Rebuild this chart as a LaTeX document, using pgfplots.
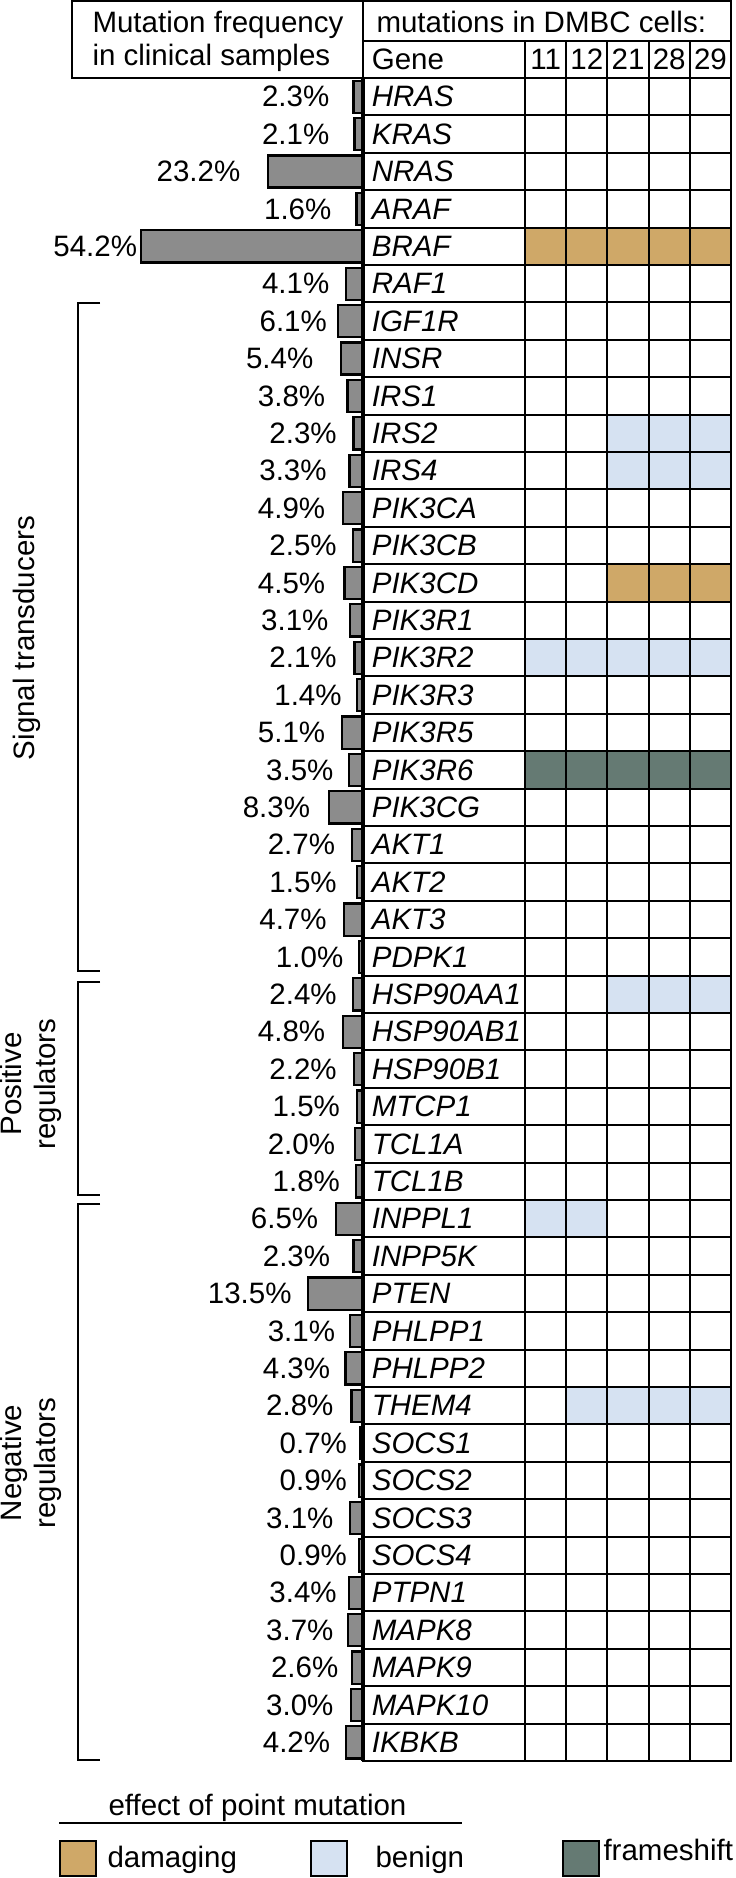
\documentclass[border=0pt]{standalone}
\usepackage{pgfplots}
\pgfplotsset{compat=1.18}
\usepackage{pgfplotstable}
\usepackage{fontspec}
\setmainfont{Liberation Sans}

\definecolor{barg}{RGB}{140,140,140}
\definecolor{dmg}{RGB}{207,168,104}
\definecolor{ben}{RGB}{214,226,242}
\definecolor{frm}{RGB}{101,122,115}

\newcommand{\fs}{\fontsize{11.8}{13.6}\selectfont}

% mutation frequency in clinical samples (%); lx = where the label ends
\pgfplotstableread{
row gene v lx
1 HRAS 2.3 8.1
2 KRAS 2.1 8.1
3 NRAS 23.2 29.8
4 ARAF 1.6 7.6
5 BRAF 54.2 55.0
6 RAF1 4.1 8.1
7 IGF1R 6.1 8.7
8 INSR 5.4 12.0
9 IRS1 3.8 9.1
10 IRS2 2.3 6.3
11 IRS4 3.3 8.75
12 PIK3CA 4.9 9.1
13 PIK3CB 2.5 6.3
14 PIK3CD 4.5 9.1
15 PIK3R1 3.1 8.3
16 PIK3R2 2.1 6.3
17 PIK3R3 1.4 5.1
18 PIK3R5 5.1 9.1
19 PIK3R6 3.5 7.1
20 PIK3CG 8.3 12.8
21 AKT1 2.7 6.7
22 AKT2 1.5 6.3
23 AKT3 4.7 8.75
24 PDPK1 1.0 4.7
25 HSP90AA1 2.4 6.3
26 HSP90AB1 4.8 9.1
27 HSP90B1 2.2 6.3
28 MTCP1 1.5 5.5
29 TCL1A 2.0 6.7
30 TCL1B 1.8 5.5
31 INPPL1 6.5 10.8
32 INPP5K 2.3 7.9
33 PTEN 13.5 17.3
34 PHLPP1 3.1 6.7
35 PHLPP2 4.3 7.9
36 THEM4 2.8 7.1
37 SOCS1 0.7 3.8
38 SOCS2 0.9 3.8
39 SOCS3 3.1 7.1
40 SOCS4 0.9 3.8
41 PTPN1 3.4 6.3
42 MAPK8 3.7 7.1
43 MAPK9 2.6 5.9
44 MAPK10 3.0 7.1
45 IKBKB 4.2 7.9
}\freq

% DMBC cells (columns 11,12,21,28,29): off = empty cells before the coloured run
\pgfplotstableread{
row off dmg ben frm
5 0 5 0 0
10 2 0 3 0
11 2 0 3 0
14 2 3 0 0
16 0 0 5 0
19 0 0 0 5
25 2 0 3 0
31 0 0 2 0
36 1 0 4 0
}\cells

\begin{document}
\begin{tikzpicture}[x=0.4pt, y=-0.4pt, font=\fs]
\useasboundingbox (0,0) rectangle (735,1878);

% frequency bars, growing to the left
\begin{axis}[
  at={(145.2pt,-704.4pt)}, anchor=south east,
  scale only axis, width=114.8pt, height=673.2pt,
  x dir=reverse, y dir=reverse,
  xmin=0, xmax=70, ymin=0.5, ymax=45.5,
  hide axis, clip=false,
]
\addplot[xbar, bar width=0.86, fill=barg, draw=black, line width=0.9pt]
  table[x=v, y=row] {\freq};
\addplot[draw=none, mark=none, nodes near coords={\pgfplotspointmeta\%},
  point meta=explicit symbolic,
  every node near coord/.append style={anchor=east, inner sep=0pt, font=\fs}]
  table[x=lx, y=row, meta=v] {\freq};
\end{axis}

% gene column and mutation grid
\begin{axis}[
  at={(145.2pt,-704.4pt)}, anchor=south west,
  scale only axis, width=147.2pt, height=688.16pt,
  y dir=reverse,
  xmin=-3.932, xmax=5, ymin=-0.5, ymax=45.5,
  xbar stacked, bar width=1,
  axis on top,
  axis line style={line width=0.8pt},
  xtick={0,1,2,3,4},
  xticklabel style={opacity=0},
  xmajorgrids,
  ytick={0,...,45},
  yticklabels={\upshape Gene,HRAS,KRAS,NRAS,ARAF,BRAF,RAF1,IGF1R,INSR,IRS1,IRS2,IRS4,PIK3CA,PIK3CB,PIK3CD,PIK3R1,PIK3R2,PIK3R3,PIK3R5,PIK3R6,PIK3CG,AKT1,AKT2,AKT3,PDPK1,HSP90AA1,HSP90AB1,HSP90B1,MTCP1,TCL1A,TCL1B,INPPL1,INPP5K,PTEN,PHLPP1,PHLPP2,THEM4,SOCS1,SOCS2,SOCS3,SOCS4,PTPN1,MAPK8,MAPK9,MAPK10,IKBKB},
  minor ytick={0.5,1.5,...,44.5},
  yminorgrids,
  major grid style={black, line width=0.8pt},
  minor grid style={black, line width=0.8pt},
  major tick length=0pt, minor tick length=0pt,
  yticklabel style={anchor=west, font=\fs\itshape},
]
\addplot[draw=none, fill=none] table[x=off, y=row] {\cells};
\addplot[draw=none, fill=dmg] table[x=dmg, y=row] {\cells};
\addplot[draw=none, fill=ben] table[x=ben, y=row] {\cells};
\addplot[draw=none, fill=frm] table[x=frm, y=row] {\cells};
\node at (axis cs:0.5,0) {11};
\node at (axis cs:1.5,0) {12};
\node at (axis cs:2.5,0) {21};
\node at (axis cs:3.5,0) {28};
\node at (axis cs:4.5,0) {29};
\end{axis}

\draw[line width=1.3pt] (363,78) -- (363,1761);

% header
\draw[line width=0.8pt] (72,1.5) rectangle (363,78);
\draw[line width=0.8pt] (363,1.5) rectangle (731,40.6);
\node[anchor=base west, inner sep=0pt] at (92,33) {Mutation frequency};
\node[anchor=base west, inner sep=0pt] at (92,66) {in clinical samples};
\node[anchor=base west, inner sep=0pt] at (376,33) {mutations in DMBC cells:};

% group brackets
\draw[line width=0.8pt] (100,303) -- (78,303) -- (78,971) -- (100,971);
\draw[line width=0.8pt] (100,982) -- (78,982) -- (78,1195) -- (100,1195);
\draw[line width=0.8pt] (100,1204) -- (78,1204) -- (78,1760) -- (100,1760);
\node[rotate=90] at (27,638) {Signal transducers};
\node[rotate=90, align=center] at (31,1084) {Positive\\regulators};
\node[rotate=90, align=center] at (31,1463) {Negative\\regulators};

% legend
\node[anchor=base west, inner sep=0pt] at (108,1815) {effect of point mutation};
\draw[line width=0.7pt] (59,1823) -- (462,1823);
\draw[line width=0.8pt, fill=dmg] (60,1841) rectangle (96,1876);
\node[anchor=base west, inner sep=0pt] at (107,1867) {damaging};
\draw[line width=0.8pt, fill=ben] (311,1841) rectangle (347,1876);
\node[anchor=base west, inner sep=0pt] at (375,1867) {benign};
\draw[line width=0.8pt, fill=frm] (563,1841) rectangle (599,1876);
\node[anchor=base west, inner sep=0pt] at (603,1860) {frameshift};
\end{tikzpicture}
\end{document}
